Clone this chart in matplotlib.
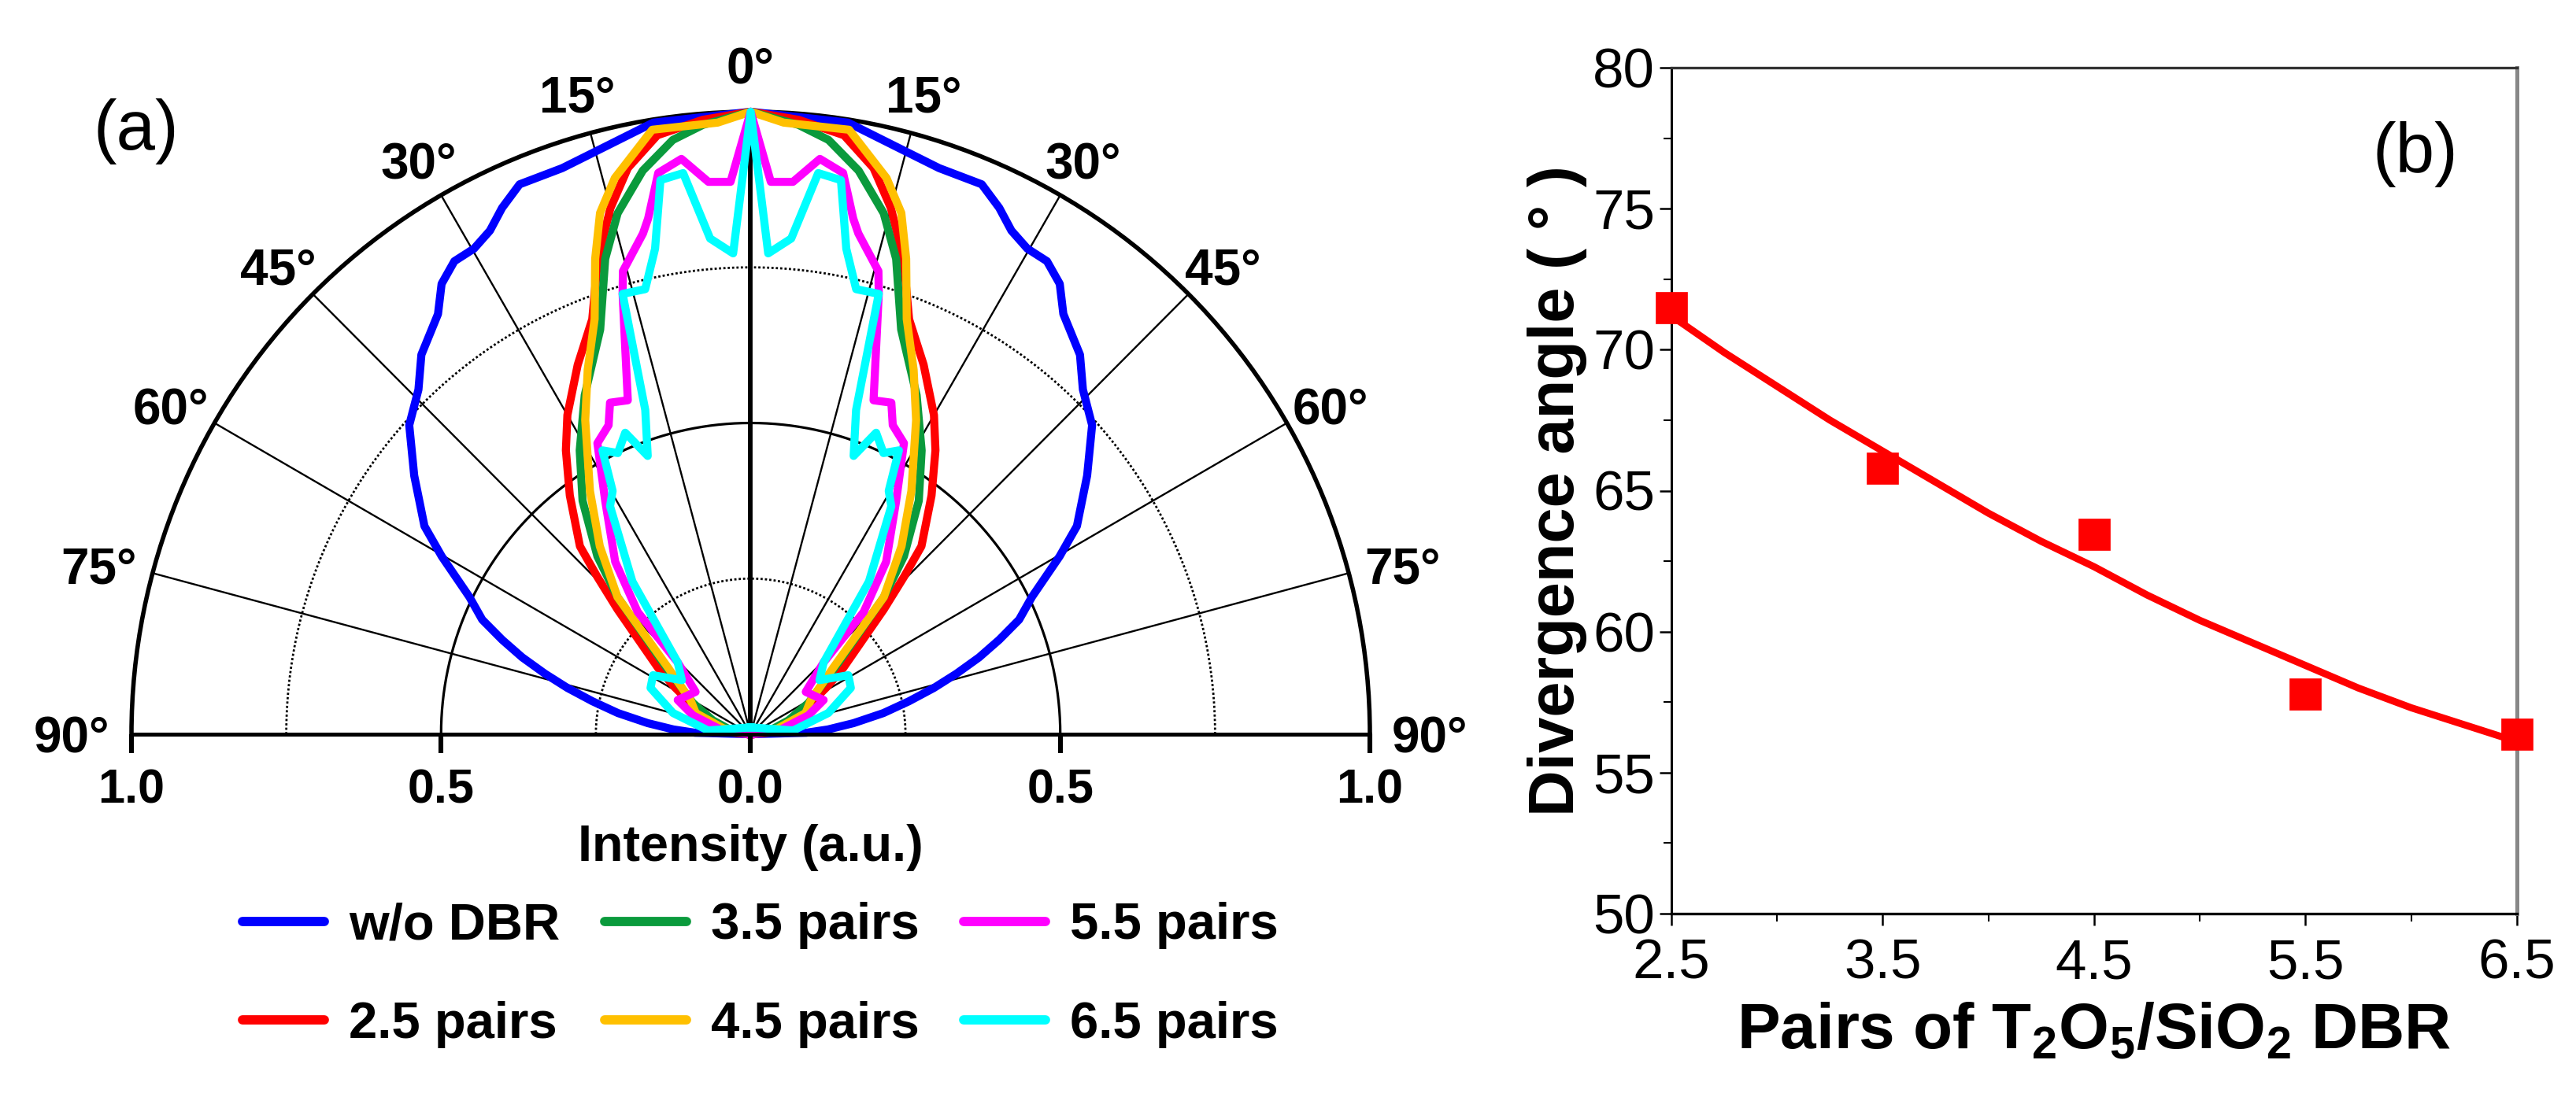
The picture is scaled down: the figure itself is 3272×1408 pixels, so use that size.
import numpy as np
import matplotlib
matplotlib.use("Agg")
import matplotlib.pyplot as plt
from matplotlib.lines import Line2D

plt.rcParams['font.family'] = ['Liberation Sans', 'DejaVu Sans']
plt.rcParams['mathtext.fontset'] = 'custom'
plt.rcParams['mathtext.bf'] = 'Liberation Sans:bold'
plt.rcParams['mathtext.rm'] = 'Liberation Sans'

W, H = 3273, 1408

# Panel (a): half-profile (symmetric about 0 deg): angle in degrees, intensity
blue_t = [0, 9.1, 15.3, 18.5, 22.9, 25.4, 27.5, 29.8, 32.2, 34.6, 36.8, 41.1, 44.1, 48, 52.6, 57.6, 60.2, 64.1, 67, 69.3, 71.5, 73.7, 75.9, 78.3, 81, 83.9, 86.5, 88.5, 90]
blue_r = [1, .995, .968, .959, .959, .936, .912, .899, .898, .879, .843, .809, .771, .742, .684, .624, .575, .505, .471, .429, .389, .346, .305, .261, .217, .167, .125, .09, 0]
red_t = [0, 4.5, 8.9, 12.3, 15, 17.9, 21, 25.2, 30, 33.2, 37.3, 42.4, 44.4, 47, 54.5, 58.5, 61.8, 73.6, 85, 90]
red_r = [1, .99, .974, .931, .875, .803, .714, .656, .592, .545, .482, .409, .354, .294, .184, .143, .115, .063, .03, 0]
green_t = [0, 4.5, 7.5, 10.9, 14.4, 17.1, 20.5, 26.2, 31.2, 35.9, 40.9, 44.3, 50.9, 61.7, 70, 80, 90]
green_r = [1, .982, .963, .922, .864, .799, .694, .607, .533, .463, .378, .308, .183, .106, .065, .03, 0]
orange_t = [0, 3.1, 9.3, 13.8, 16.2, 18.2, 20.7, 24.2, 27.9, 33.6, 38.9, 44.3, 51.3, 60.8, 69, 78, 90]
orange_r = [1, .984, .984, .92, .872, .804, .713, .642, .571, .469, .388, .308, .171, .111, .095, .045, 0]
magenta_t = [0, 2.1, 4.4, 6.9, 9.4, 11.3, 12.2, 15.5, 16.3, 20.3, 23.1, 24.8, 27.9, 32.1, 38.3, 42.9, 45.6, 52.6, 65, 72, 83, 90]
magenta_r = [1, .888, .89, .931, .914, .845, .823, .772, .737, .572, .579, .547, .529, .442, .353, .268, .165, .112, .13, .098, .045, 0]
cyan_t = [0, 2.1, 4.7, 6.9, 9.3, 11.2, 13.4, 16.3, 18.1, 20.4, 22.7, 25.4, 27.7, 29.7, 31.8, 37.9, 45.6, 52, 59, 65.3, 74.8, 85, 0]
cyan_r = [1, .773, .799, .908, .902, .795, .735, .737, .548, .477, .525, .5, .515, .45, .431, .311, .165, .141, .184, .178, .13, .069, .011]

series = [
    ("w/o DBR", blue_t, blue_r, "#0000FF"),
    ("2.5 pairs", red_t, red_r, "#FF0000"),
    ("3.5 pairs", green_t, green_r, "#0A9A3C"),
    ("4.5 pairs", orange_t, orange_r, "#FFC000"),
    ("5.5 pairs", magenta_t, magenta_r, "#FF00FF"),
    ("6.5 pairs", cyan_t, cyan_r, "#00FFFF"),
]

major_angles = [-90, -75, -60, -45, -30, -15, 0, 15, 30, 45, 60, 75, 90]
minor_angles = [a for a in range(-85, 90, 5) if a % 15 != 0]
ring_levels = [0.25, 0.5, 0.75]
angle_label_angles = [0, 15.2, 30.2, 45.4, 60.6, 75.5, 90]
angle_label_text = ["0°", "15°", "30°", "45°", "60°", "75°", "90°"]
angle_label_radius = [1.075, 1.067, 1.067, 1.071, 1.075, 1.087, 1.097]
intensity_ticks = [-1.0, -0.5, 0.0, 0.5, 1.0]
intensity_labels = ["1.0", "0.5", "0.0", "0.5", "1.0"]

# Panel (b)
pairs = [2.5, 3.5, 4.5, 5.5, 6.5]
divergence = [71.5, 65.8, 63.45, 57.8, 56.35]
fit_x = [2.5, 2.75, 3.0, 3.25, 3.5, 3.75, 4.0, 4.25, 4.5, 4.75, 5.0, 5.25, 5.5, 5.75, 6.0, 6.25, 6.5]
fit_y = [71.2, 69.9, 68.7, 67.5, 66.4, 65.3, 64.2, 63.2, 62.3, 61.3, 60.4, 59.6, 58.8, 58.0, 57.3, 56.7, 56.1]

fig = plt.figure(figsize=(W / 100, H / 100), dpi=100)

cx, cy, Rx, Ry = 953.5, 933.0, 786.5, 791.0


def rect(l, t, r, b):
    return [l / W, 1 - b / H, (r - l) / W, (b - t) / H]


ax = fig.add_axes(rect(cx - Rx, cy - 1.5 * Ry, cx + Rx, cy + 0.5 * Ry), projection='polar')
ax.set_aspect('auto')
ax.set_theta_zero_location('N')
ax.set_theta_direction(-1)
ax.set_thetalim(np.deg2rad(-90), np.deg2rad(90))
ax.set_rlim(0, 1)
ax.set_thetagrids(major_angles, labels=[""] * len(major_angles))
ax.set_rgrids(ring_levels, labels=[""] * 3)
ax.yaxis.grid(False)
ax.set_xticks(np.deg2rad(minor_angles), minor=True)
ax.tick_params(axis='x', which='major', length=0)
ax.tick_params(axis='x', which='minor', direction='in', length=15, width=1.6, color='black')
ax.tick_params(axis='y', length=0)
ax.xaxis.grid(True, color='black', lw=1.7, ls='-')
for a, gl in zip(major_angles, ax.xaxis.get_gridlines()):
    if a == 0:
        gl.set_linewidth(4.2)
    if abs(a) == 90:
        gl.set_linewidth(0)
arc = np.deg2rad(np.arange(-90, 90.5, 0.5))
for lev in ring_levels:
    if lev == 0.5:
        ax.plot(arc, np.full_like(arc, lev), color='black', lw=2.3, zorder=1.5)
    else:
        ax.plot(arc, np.full_like(arc, lev), color='black', lw=2.0, ls=(0, (1, 1)), zorder=1.5)
ax.set_ylim(0, 1)
ax.spines['polar'].set_linewidth(4.0)
ax.spines['start'].set_visible(False)
ax.spines['end'].set_visible(False)
ax.spines['inner'].set_visible(False)
ax.set_axisbelow(True)

for a, txt, rad in zip(angle_label_angles, angle_label_text, angle_label_radius):
    for sign in ([1] if a == 0 else [-1, 1]):
        ax.text(np.deg2rad(sign * a), rad, txt, fontsize=46, fontweight='bold',
                ha='center', va='center_baseline', clip_on=False)

handles = []
for name, t, r, col in series:
    t = np.array(t, float)
    r = np.array(r, float)
    tt = np.deg2rad(np.r_[-t[::-1], t[1:]])
    rr = np.r_[r[::-1], r[1:]]
    ax.plot(tt, rr, color=col, lw=7.4, clip_on=False, solid_joinstyle='round', zorder=3)
    handles.append(Line2D([], [], color=col, lw=8.5, solid_capstyle='round', label=name))

# linear intensity axis below the half circle
axb = fig.add_axes(rect(cx - Rx, cy - 1, cx + Rx, cy))
axb.patch.set_visible(False)
axb.set_xlim(-1, 1)
axb.set_yticks([])
for s in ['top', 'left', 'right']:
    axb.spines[s].set_visible(False)
axb.spines['bottom'].set_linewidth(3.6)
axb.set_xticks(intensity_ticks, labels=intensity_labels, fontsize=44, fontweight='bold')
axb.tick_params(axis='x', length=17, width=4.4, pad=14)
axb.set_xlabel("Intensity (a.u.)", fontsize=46.6, fontweight='bold', labelpad=10)

fig.legend(handles=handles, ncol=3, frameon=False,
           prop={'size': 47, 'weight': 'bold'},
           handlelength=1.6, handletextpad=0.47, columnspacing=0.86, labelspacing=1.0,
           loc='center left', bbox_to_anchor=(308 / W, 1 - 1239 / H), borderpad=0, borderaxespad=0)

fig.text(173 / W, 1 - 167 / H, "(a)", fontsize=64, ha='center', va='center')

# Panel (b)
ax2 = fig.add_axes(rect(2123, 86, 3197, 1161))
ax2.plot(fit_x, fit_y, color='#FF0000', lw=6.5, zorder=3, clip_on=False)
ax2.plot(pairs, divergence, ls='none', marker='s', ms=29, mfc='#FF0000', mec='#FF0000', mew=0.5,
         clip_on=False, zorder=4)
ax2.set_xlim(2.5, 6.5)
ax2.set_ylim(50, 80)
ax2.set_xticks(pairs)
ax2.set_xticks([3, 4, 5, 6], minor=True)
ax2.set_yticks([50, 55, 60, 65, 70, 75, 80])
ax2.set_yticks([52.5, 57.5, 62.5, 67.5, 72.5, 77.5], minor=True)
ax2.set_xticklabels(["2.5", "3.5", "4.5", "5.5", "6.5"])
ax2.tick_params(axis='both', which='major', length=11, width=1.8, labelsize=51, pad=12)
ax2.tick_params(axis='y', which='major', pad=4)
ax2.tick_params(axis='both', which='minor', length=7, width=1.5)
ax2.spines['left'].set_linewidth(2.2)
ax2.spines['bottom'].set_linewidth(2.4)
ax2.spines['top'].set_linewidth(2.4)
ax2.spines['top'].set_color('#333333')
ax2.spines['right'].set_linewidth(3.6)
ax2.spines['right'].set_color('#888888')
ax2.set_xlabel("Pairs of T$_{\\mathbf{2}}$O$_{\\mathbf{5}}$/SiO$_{\\mathbf{2}}$ DBR",
               fontsize=59, fontweight='bold', va='center')
ax2.xaxis.set_label_coords(0.5, (1161 - 1311) / (1161 - 86), transform=ax2.transAxes)
ax2.set_ylabel("Divergence angle ( ° )", fontsize=58.5, fontweight='bold', va='center')
ax2.yaxis.set_label_coords((1978 - 2123) / (3197 - 2123), 0.5, transform=ax2.transAxes)
fig.text(3068 / W, 1 - 196 / H, "(b)", fontsize=64, ha='center', va='center')

fig.savefig("out.png", dpi=100)
